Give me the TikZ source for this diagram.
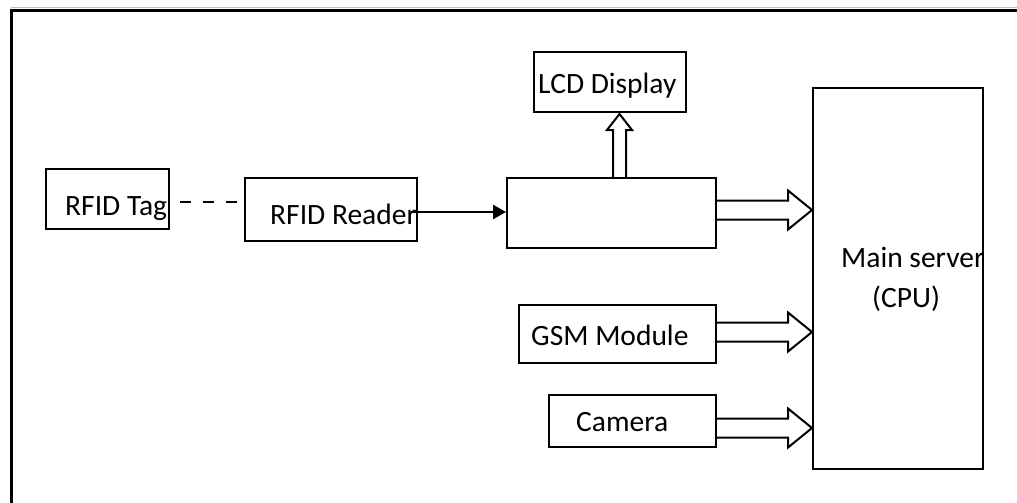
\documentclass[tikz,border=0pt]{standalone}
\usepackage{fontspec}
\setmainfont{Carlito}
\usetikzlibrary{calc,arrows.meta}

% hollow block arrow, running right from #1 to the x of #2
\newcommand{\harrow}[2]{%
  \draw[hollow] let \p1=(#1), \p2=(#2) in
    (\x1,\y1+9.5pt) -- (\x2-24pt,\y1+9.5pt) -- (\x2-24pt,\y1+19.5pt)
    -- (\x2,\y1) -- (\x2-24pt,\y1-19.5pt) -- (\x2-24pt,\y1-9.5pt)
    -- (\x1,\y1-9.5pt);}

\begin{document}
\begin{tikzpicture}[x=1pt,y=-1pt,
  blk/.style={draw,line width=2pt,inner sep=0pt},
  lbl/.style={anchor=base west,inner sep=0pt,font=\fontsize{29.5}{35}\selectfont},
  hollow/.style={line width=2pt,line join=miter}]
\useasboundingbox (0,0) rectangle (1017,503);

% frame
\draw[gray!50,line width=1pt] (11,8) -- (1017,8);
\draw[line width=3pt] (11,503) -- (11,10.5) -- (1017,10.5);

% blocks
\node[blk,minimum width=123pt,minimum height=60pt] (tag) at (107.5,199) {};
\node[blk,minimum width=172pt,minimum height=63pt] (reader) at (331,209.5) {};
\node[blk,minimum width=152pt,minimum height=60pt] (lcd) at (610,82) {};
\node[blk,minimum width=209pt,minimum height=70pt] (ctrl) at (611.5,213) {};
\node[blk,minimum width=197pt,minimum height=58pt] (gsm) at (617.5,334) {};
\node[blk,minimum width=167pt,minimum height=52pt] (cam) at (632.5,421) {};
\node[blk,minimum width=170pt,minimum height=381pt] (server) at (898,278.5) {};

% labels
\node[lbl] (tagtxt) at (65,215) {RFID Tag};
\node[lbl] (readertxt) at (270,224) {RFID Reader};
\node[lbl] (lcdtxt) at (538,93) {LCD Display};
\node[lbl] (gsmtxt) at (531,345) {GSM Module};
\node[lbl] (camtxt) at (576,431) {Camera};
\node[lbl] (servertxt) at (841,267) {Main server};
\node[lbl] (cputxt) at (872,307) {(CPU)};

% tag to reader, reader to controller
\draw[line width=2pt,dash pattern=on 11pt off 12pt]
  (tag.east) ++(10,3) coordinate (ds) -- (ds -| reader.west);
\draw[line width=2.5pt,-{Triangle[length=13pt,width=14pt]}]
  (reader.east) ++(-7,2.5) coordinate (rs) -- (rs -| ctrl.west);

% controller up to the display
\draw[hollow] let \p1=([xshift=8pt]ctrl.north), \p2=(lcd.south) in
  (\x1-6.5pt,\y1) -- (\x1-6.5pt,\y2-17pt) -- (\x1-12.5pt,\y2-17pt)
  -- (\x1,\y2-1pt) -- (\x1+12.5pt,\y2-17pt) -- (\x1+6.5pt,\y2-17pt)
  -- (\x1+6.5pt,\y1);

% into the server
\harrow{[yshift=3pt]ctrl.east}{server.west}
\harrow{[yshift=2pt]gsm.east}{server.west}
\harrow{[yshift=-7pt]cam.east}{server.west}

\end{tikzpicture}
\end{document}
